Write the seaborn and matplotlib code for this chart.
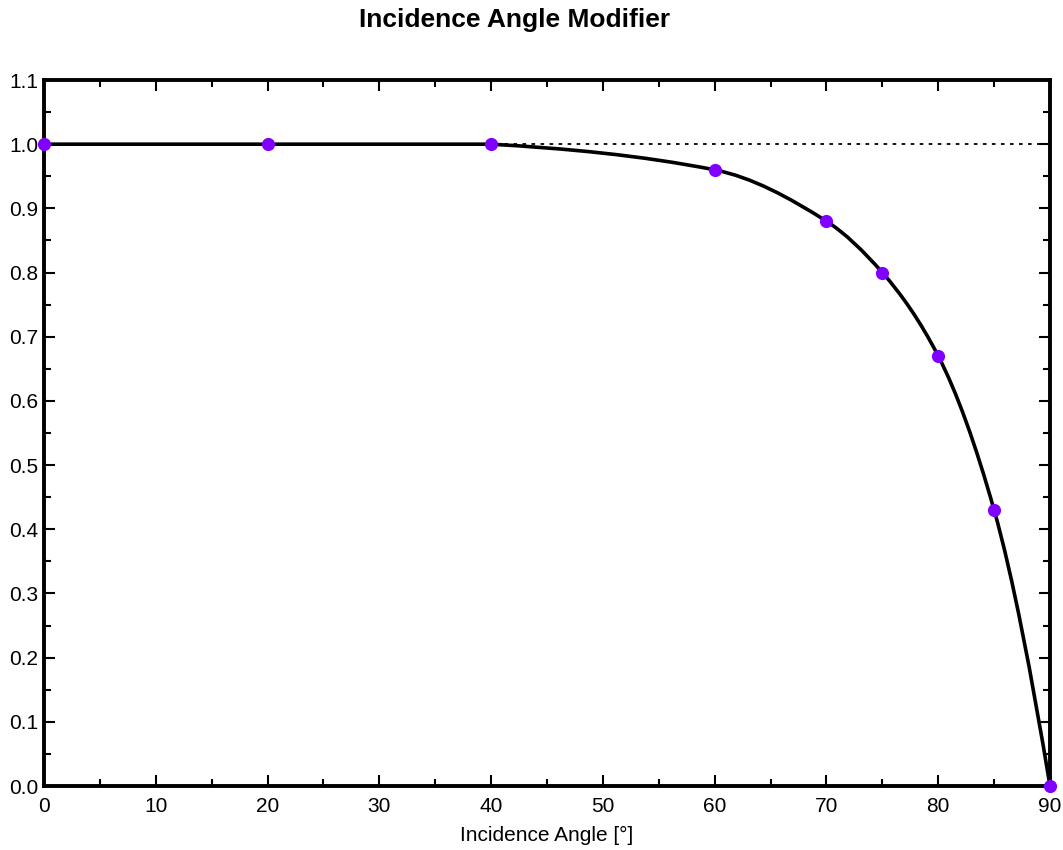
import matplotlib
matplotlib.use("Agg")
import matplotlib.pyplot as plt
import seaborn as sns
import numpy as np
import pandas as pd
from matplotlib.path import Path
from matplotlib.patches import PathPatch
from matplotlib.ticker import MultipleLocator

# Incidence angle modifier data
angles = [0, 20, 40, 60, 70, 75, 80, 85, 90]
iam = [1.0, 1.0, 1.0, 0.96, 0.88, 0.80, 0.67, 0.43, 0.0]
x_ticks = [0, 10, 20, 30, 40, 50, 60, 70, 80, 90]
y_ticks = [0.0, 0.1, 0.2, 0.3, 0.4, 0.5, 0.6, 0.7, 0.8, 0.9, 1.0, 1.1]

df = pd.DataFrame({"angle": angles, "iam": iam})


def slopes(x, y):
    # weighted harmonic mean of neighbouring secants, plain mean next to flat parts
    x = np.asarray(x, float)
    y = np.asarray(y, float)
    h = np.diff(x)
    d = np.diff(y) / h
    m = np.zeros_like(y)
    for k in range(1, len(x) - 1):
        if d[k - 1] * d[k] > 0:
            w1 = 2 * h[k] + h[k - 1]
            w2 = h[k] + 2 * h[k - 1]
            m[k] = (w1 + w2) / (w1 / d[k - 1] + w2 / d[k])
        else:
            m[k] = 0.5 * (d[k - 1] + d[k])
    m[0] = d[0]
    m[-1] = ((2 * h[-1] + h[-2]) * d[-1] - h[-1] * d[-2]) / (h[-1] + h[-2])
    return x, y, m


def smooth_path(x, y):
    # cubic bezier segments through the data points, flat parts kept straight
    x, y, m = slopes(x, y)
    verts = [(x[0], y[0])]
    codes = [Path.MOVETO]
    for k in range(len(x) - 1):
        h = x[k + 1] - x[k]
        m0, m1 = m[k], m[k + 1]
        if y[k + 1] == y[k]:
            m0 = m1 = 0.0
        verts += [(x[k] + h / 3, y[k] + m0 * h / 3),
                  (x[k + 1] - h / 3, y[k + 1] - m1 * h / 3),
                  (x[k + 1], y[k + 1])]
        codes += [Path.CURVE4] * 3
    return Path(verts, codes)


sns.set_style("ticks")
plt.rcParams["font.family"] = ["Liberation Sans", "DejaVu Sans"]

fig = plt.figure(figsize=(10.63, 8.5), dpi=100)
ax = fig.add_axes([44 / 1063, 1 - 786 / 850, (1050 - 44) / 1063, (786 - 80) / 850])

# reference line at 1.0
ax.axhline(1.0, color="black", linestyle=(0, (2, 3)), linewidth=1.3, zorder=1)

ax.add_patch(PathPatch(smooth_path(angles, iam), fill=False, edgecolor="black",
                       linewidth=2.6, zorder=2, capstyle="round", joinstyle="round"))
sns.scatterplot(data=df, x="angle", y="iam", color="#8000FF", s=90,
                edgecolor="#8000FF", linewidth=0, ax=ax, zorder=3, clip_on=False)

ax.set_xlim(0, 90)
ax.set_ylim(0, 1.1)
ax.set_xticks(x_ticks)
ax.set_yticks(y_ticks)
ax.set_yticklabels([f"{v:.1f}" for v in y_ticks])
ax.xaxis.set_minor_locator(MultipleLocator(5))
ax.yaxis.set_minor_locator(MultipleLocator(0.05))

ax.tick_params(which="both", direction="in", top=True, right=True,
               labeltop=False, labelright=False, width=1.5, colors="black")
ax.tick_params(which="major", length=8, labelsize=15)
ax.tick_params(axis="x", which="major", pad=8)
ax.tick_params(axis="y", which="major", pad=4)
ax.tick_params(which="minor", length=5)

for sp in ax.spines.values():
    sp.set_linewidth(2.8)
    sp.set_color("black")

ax.set_xlabel("Incidence Angle [°]", fontsize=15, labelpad=7, color="black")
ax.set_ylabel("")
fig.suptitle("Incidence Angle Modifier", fontsize=19, fontweight="bold",
             color="black", x=0.4845, y=0.99)

plt.savefig("out.png", dpi=100)
plt.close()
